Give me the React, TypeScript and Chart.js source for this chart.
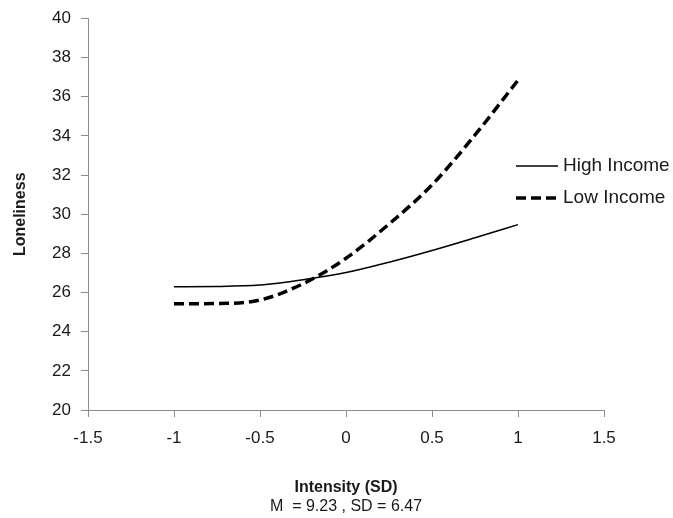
import React, { useEffect, useRef } from "react";
import { Chart, registerables } from "chart.js";

Chart.register(...registerables);

// ---- data ----
const intensity = [-1, -0.75, -0.5, -0.25, 0, 0.25, 0.5, 0.75, 1];
const highIncome = [26.3, 26.31, 26.38, 26.65, 27.02, 27.55, 28.15, 28.8, 29.47];
const lowIncome = [25.43, 25.44, 25.62, 26.45, 27.75, 29.5, 31.5, 34.05, 36.85];
const seriesNames = ["High Income", "Low Income"];
const xRange = [-1.5, 1.5];
const xStep = 0.5;
const yRange = [20, 40];
const yStep = 2;
const xTitle = "Intensity (SD)";
const xSubtitle = "M  = 9.23 , SD = 6.47";
const yTitle = "Loneliness";

const FONT = "'Liberation Sans', Arial, Helvetica, sans-serif";
const TEXT = "#1a1a1a";
const AXIS = "#8c8c8c";

export default function App() {
  const ref = useRef<HTMLCanvasElement>(null);

  useEffect(() => {
    document.body.style.margin = "0";
    const canvas = ref.current;
    if (!canvas) return;

    const sideLegend = {
      id: "sideLegend",
      afterDraw(chart: any) {
        const ctx = chart.ctx as CanvasRenderingContext2D;
        const { left, right } = chart.chartArea;
        ctx.save();
        const ys = [166, 198];
        chart.data.datasets.forEach((d: any, i: number) => {
          ctx.beginPath();
          ctx.strokeStyle = d.borderColor;
          ctx.lineWidth = d.borderWidth;
          ctx.lineCap = "butt";
          ctx.setLineDash(d.borderDash || []);
          ctx.moveTo(516, ys[i]);
          ctx.lineTo(558, ys[i]);
          ctx.stroke();
          ctx.setLineDash([]);
          ctx.fillStyle = TEXT;
          ctx.font = `19px ${FONT}`;
          ctx.textAlign = "left";
          ctx.textBaseline = "middle";
          ctx.fillText(d.label, 563, ys[i]);
        });
        ctx.font = `16px ${FONT}`;
        ctx.textAlign = "center";
        ctx.textBaseline = "middle";
        ctx.fillStyle = TEXT;
        ctx.fillText(xSubtitle, (left + right) / 2, 507);
        ctx.restore();
      },
    };

    const chart = new Chart(canvas, {
      type: "line",
      data: {
        datasets: [
          {
            label: seriesNames[0],
            data: intensity.map((x, i) => ({ x, y: highIncome[i] })),
            borderColor: "#000",
            borderWidth: 1.5,
            pointRadius: 0,
            cubicInterpolationMode: "monotone",
            fill: false,
          },
          {
            label: seriesNames[1],
            data: intensity.map((x, i) => ({ x, y: lowIncome[i] })),
            borderColor: "#000",
            borderWidth: 3.5,
            borderDash: [10, 5],
            pointRadius: 0,
            cubicInterpolationMode: "monotone",
            fill: false,
          },
        ],
      },
      options: {
        animation: false,
        responsive: true,
        maintainAspectRatio: false,
        layout: { padding: { top: 17, right: 69, left: 0, bottom: 0 } },
        plugins: {
          legend: { display: false },
          tooltip: { enabled: false },
        },
        scales: {
          x: {
            type: "linear",
            min: xRange[0],
            max: xRange[1],
            afterFit: (s: any) => {
              s.height = 108;
            },
            ticks: {
              stepSize: xStep,
              font: { family: FONT, size: 17 },
              color: TEXT,
              padding: 11,
              maxRotation: 0,
              callback: (v: any) => String(Number(v)),
            },
            grid: {
              drawOnChartArea: false,
              drawTicks: true,
              tickLength: 7,
              tickColor: AXIS,
              color: AXIS,
            },
            border: { color: AXIS, width: 1 },
            title: {
              display: true,
              text: xTitle,
              font: { family: FONT, size: 16, weight: "bold" },
              color: TEXT,
              padding: { top: 0, bottom: 21 },
            },
          },
          y: {
            type: "linear",
            min: yRange[0],
            max: yRange[1],
            afterFit: (s: any) => {
              s.width = 88;
            },
            ticks: {
              stepSize: yStep,
              font: { family: FONT, size: 17, lineHeight: 1 },
              color: TEXT,
              padding: 10,
              callback: (v: any) => String(Number(v)),
            },
            grid: {
              drawOnChartArea: false,
              drawTicks: true,
              tickLength: 7,
              tickColor: AXIS,
              color: AXIS,
            },
            border: { color: AXIS, width: 1 },
            title: {
              display: true,
              text: yTitle,
              font: { family: FONT, size: 16, weight: "bold" },
              color: TEXT,
              padding: { top: 11, bottom: 0 },
            },
          },
        },
      },
      plugins: [sideLegend],
    } as any);

    return () => chart.destroy();
  }, []);

  return (
    <div style={{ width: 673, height: 518, position: "relative" }}>
      <canvas ref={ref} />
    </div>
  );
}
